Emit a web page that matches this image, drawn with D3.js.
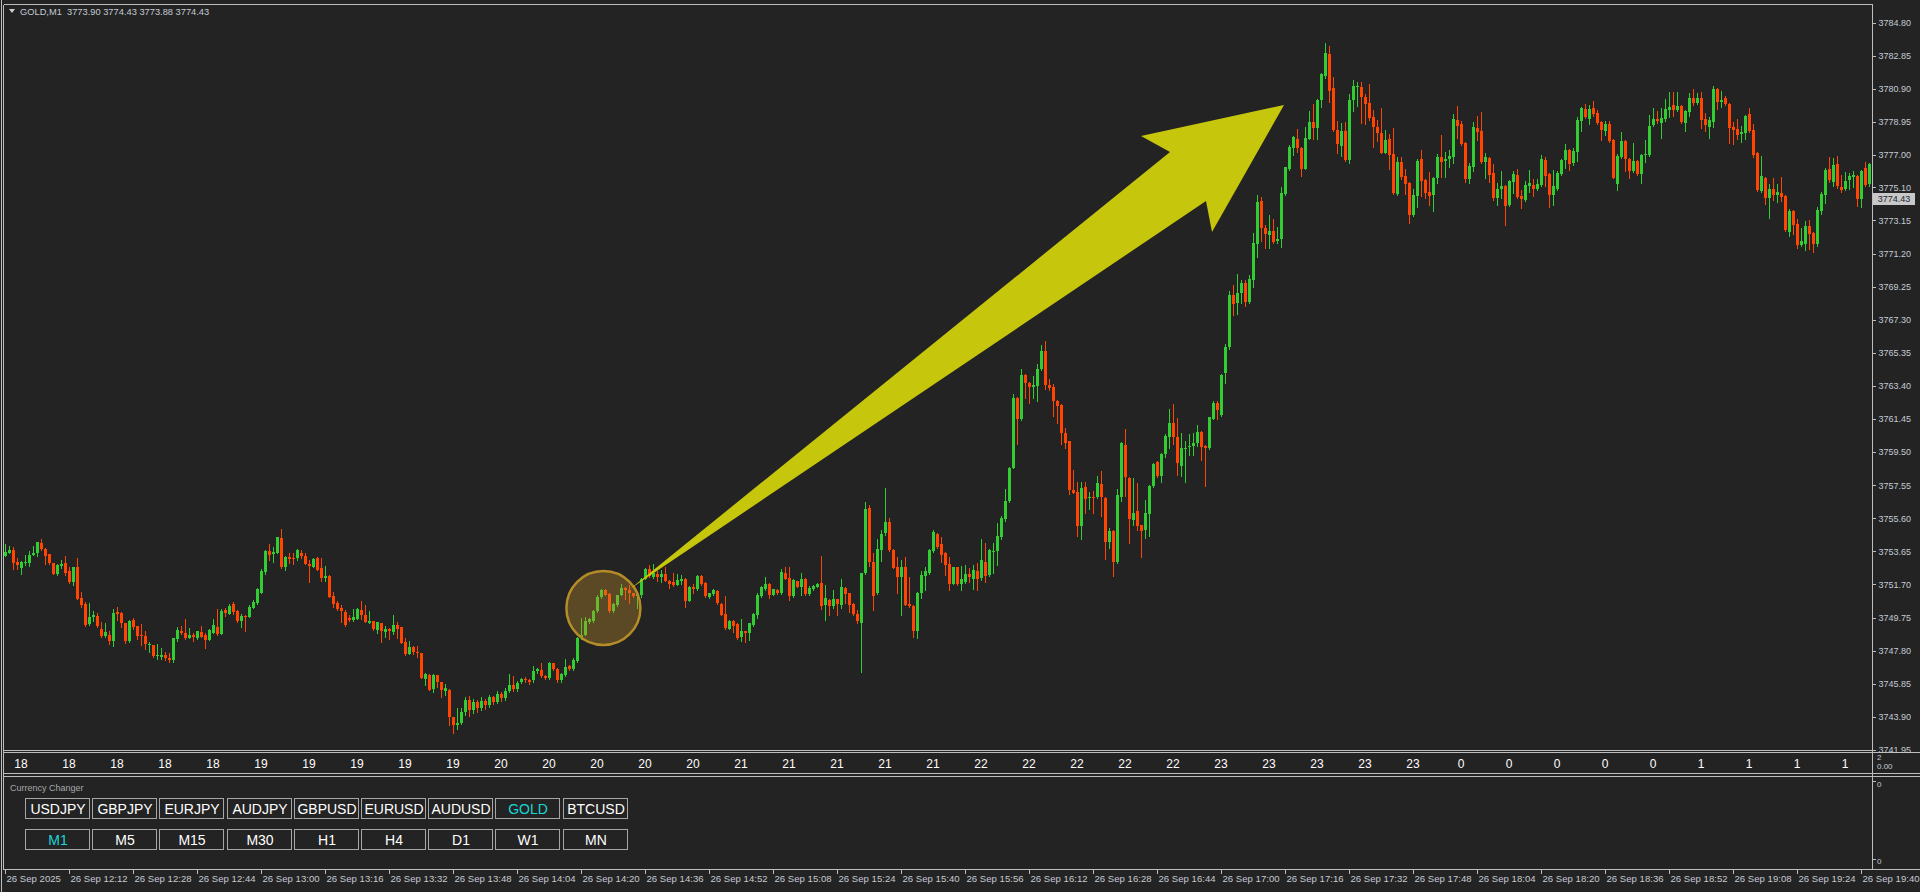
<!DOCTYPE html>
<html><head><meta charset="utf-8">
<script src="https://cdn.jsdelivr.net/npm/d3@7"></script>
<style>
html,body{margin:0;padding:0;background:#232323;overflow:hidden;}
svg{display:block;}
text{font-family:"Liberation Sans",Arial,sans-serif;}
</style></head><body>
<svg id="chart" width="1920" height="892"></svg>
<script>
// ---------- DATA (GOLD M1, one candle per minute from 11:56) ----------
const opens=[
3753.40,3753.58,3753.73,3753.03,3752.69,3752.99,3752.99,3753.46,3753.54,3754.14,
3753.77,3753.50,3752.95,3752.34,3752.81,3752.97,3752.49,3751.87,3752.73,3750.90,
3750.55,3749.37,3749.80,3749.84,3749.08,3748.66,3748.72,3748.39,3750.08,3750.02,
3749.43,3748.39,3749.61,3749.25,3748.72,3748.66,3748.17,3748.13,3747.53,3747.45,
3747.54,3747.39,3747.27,3748.51,3748.96,3748.84,3748.57,3748.72,3748.57,3748.90,
3748.72,3748.43,3748.86,3749.19,3748.80,3750.20,3749.98,3750.55,3750.14,3749.57,
3749.84,3749.80,3750.31,3750.61,3751.22,3752.46,3753.67,3753.50,3753.58,3754.44,
3752.75,3753.30,3753.26,3753.24,3753.58,3753.38,3752.93,3752.75,3753.26,3752.65,
3752.08,3752.20,3751.02,3750.61,3750.33,3750.08,3749.72,3749.61,3749.69,3750.20,
3749.90,3749.43,3749.55,3749.02,3749.43,3748.92,3749.10,3748.92,3749.31,3749.18,
3748.31,3747.62,3748.02,3747.74,3747.66,3746.15,3746.35,3745.54,3746.37,3745.95,
3745.42,3745.48,3743.89,3743.40,3743.52,3744.19,3744.89,3744.30,3744.75,3744.40,
3744.85,3744.60,3745.05,3744.80,3745.25,3745.00,3745.45,3745.80,3745.55,3745.95,
3746.15,3746.05,3746.07,3746.58,3746.66,3746.30,3746.19,3747.05,3746.70,3746.07,
3746.38,3746.89,3746.70,3747.21,3748.58,3748.74,3749.49,3749.56,3750.11,3750.94,
3751.37,3751.14,3750.15,3750.47,3751.10,3751.49,3751.37,3751.18,3751.02,3751.06,
3752.04,3752.59,3752.16,3752.31,3752.16,3752.31,3751.92,3751.84,3751.69,3751.92,
3752.00,3750.74,3751.57,3751.45,3752.20,3751.76,3750.98,3751.14,3751.33,3750.55,
3749.96,3749.09,3749.53,3749.37,3748.58,3748.94,3748.82,3749.33,3749.92,3751.02,
3751.45,3751.73,3751.10,3751.37,3751.21,3752.35,3752.08,3751.02,3751.88,3751.57,
3752.00,3751.14,3751.45,3751.57,3751.76,3750.51,3750.78,3750.43,3750.82,3750.51,
3751.49,3751.18,3750.55,3749.96,3749.45,3752.35,3756.20,3753.02,3751.21,3753.73,
3754.71,3755.38,3753.73,3752.71,3752.16,3752.71,3750.55,3750.43,3748.97,3751.18,
3752.20,3752.35,3753.69,3754.67,3754.07,3753.54,3752.91,3751.75,3752.70,3751.75,
3751.86,3752.32,3752.00,3752.49,3752.07,3753.01,3752.24,3753.61,3753.69,3754.49,
3755.58,3756.63,3758.59,3762.69,3761.43,3764.04,3763.58,3763.33,3763.39,3764.38,
3765.43,3763.47,3763.33,3762.53,3762.27,3760.65,3760.13,3757.29,3757.16,3755.12,
3757.43,3756.82,3756.86,3756.84,3757.60,3756.80,3754.19,3754.84,3753.03,3756.86,
3759.92,3758.00,3755.48,3756.02,3755.18,3754.91,3755.85,3757.48,3758.91,3758.06,
3759.39,3760.38,3761.22,3760.38,3758.70,3759.71,3759.81,3759.85,3760.06,3760.67,
3759.85,3759.71,3761.47,3762.42,3761.68,3764.13,3765.68,3768.76,3768.27,3768.90,
3769.49,3768.33,3769.64,3771.74,3774.27,3772.73,3772.31,3772.52,3771.95,3772.06,
3774.69,3776.20,3777.43,3777.95,3777.43,3776.20,3777.97,3778.94,3778.62,3780.27,
3781.68,3782.96,3780.96,3778.48,3777.53,3778.41,3776.73,3780.25,3781.00,3781.00,
3780.43,3780.08,3779.24,3778.65,3778.33,3777.15,3777.95,3777.07,3774.73,3776.58,
3775.74,3775.37,3773.47,3774.59,3776.77,3775.53,3774.82,3774.64,3775.67,3776.88,
3776.65,3776.77,3776.88,3779.06,3778.83,3777.71,3775.59,3776.31,3778.59,3778.42,
3776.61,3776.84,3775.94,3774.49,3775.00,3775.18,3774.06,3775.41,3775.82,3774.59,
3774.35,3775.19,3775.23,3775.00,3775.23,3776.71,3775.88,3774.64,3775.00,3775.88,
3776.71,3777.30,3776.55,3777.18,3779.03,3779.71,3779.12,3779.77,3779.48,3778.97,
3778.44,3778.83,3777.89,3775.31,3776.90,3777.83,3776.77,3776.08,3776.65,3775.90,
3777.00,3777.00,3778.77,3779.12,3778.87,3779.14,3779.65,3779.95,3779.65,3779.89,
3778.89,3779.54,3780.36,3780.07,3780.36,3779.12,3778.65,3778.95,3780.89,3780.13,
3780.36,3780.01,3778.65,3778.53,3778.24,3778.30,3779.42,3778.48,3777.12,3774.88,
3775.65,3774.47,3775.00,3774.64,3774.76,3774.59,3772.46,3773.70,3772.94,3771.70,
3771.76,3772.82,3772.41,3771.76,3773.70,3774.64,3776.18,3775.41,3776.47,3775.12,
3775.00,3775.53,3775.71,3775.76,3774.41,3776.24,3775.29];
const highs=[
3754.09,3753.97,3753.89,3753.26,3753.10,3753.44,3753.65,3753.97,3754.20,3754.38,
3753.85,3753.50,3752.99,3752.89,3753.14,3753.38,3752.73,3752.73,3753.26,3751.26,
3750.67,3750.61,3750.14,3750.00,3749.47,3749.43,3748.94,3750.26,3750.37,3750.08,
3749.43,3749.61,3749.74,3749.25,3749.37,3748.96,3748.31,3748.13,3748.19,3747.96,
3747.72,3747.64,3748.55,3749.18,3749.25,3749.67,3749.14,3748.82,3748.96,3749.25,
3748.82,3749.10,3749.67,3750.26,3750.28,3750.31,3750.55,3750.67,3750.20,3749.98,
3749.90,3750.47,3750.79,3751.47,3752.61,3753.73,3754.09,3753.93,3754.50,3754.97,
3753.38,3753.56,3753.54,3753.77,3753.73,3753.54,3753.12,3753.28,3753.32,3753.28,
3752.77,3752.24,3751.26,3750.73,3750.47,3750.22,3749.88,3750.26,3750.31,3750.73,
3750.49,3750.14,3749.57,3749.51,3749.43,3749.23,3749.16,3749.90,3749.49,3749.21,
3748.57,3748.37,3748.07,3748.07,3747.66,3746.46,3746.43,3746.41,3746.37,3745.97,
3745.84,3745.52,3743.91,3744.42,3744.42,3745.05,3745.13,3744.95,3744.90,3745.05,
3744.95,3745.20,3745.15,3745.40,3745.35,3745.60,3746.42,3746.30,3746.00,3746.20,
3746.25,3746.15,3746.89,3746.80,3747.09,3746.35,3747.12,3747.10,3746.75,3746.50,
3747.29,3746.95,3747.34,3748.58,3749.70,3749.80,3749.75,3750.18,3751.08,3751.45,
3751.45,3751.18,3750.60,3751.10,3751.73,3751.52,3751.67,3751.22,3751.20,3752.05,
3752.65,3752.84,3752.90,3752.51,3752.55,3752.75,3751.96,3752.35,3752.31,3752.24,
3752.05,3751.60,3751.73,3752.26,3752.25,3751.86,3751.22,3751.42,3751.38,3750.60,
3751.02,3749.58,3749.58,3749.42,3749.64,3748.98,3749.45,3750.00,3751.21,3751.58,
3752.16,3751.78,3751.45,3751.42,3752.59,3752.75,3752.75,3752.00,3751.92,3752.35,
3752.05,3751.61,3751.66,3751.78,3753.38,3751.67,3750.82,3751.37,3750.86,3752.00,
3751.53,3751.22,3750.60,3750.19,3752.40,3756.58,3756.38,3753.53,3754.36,3754.91,
3757.36,3755.59,3753.78,3753.34,3753.14,3753.30,3752.16,3750.48,3751.25,3752.51,
3752.71,3753.78,3754.91,3754.72,3754.49,3753.60,3753.33,3752.75,3752.75,3752.80,
3752.87,3752.64,3752.87,3752.97,3754.38,3754.17,3753.76,3754.17,3755.33,3755.75,
3757.33,3758.64,3762.95,3762.74,3764.38,3764.09,3763.62,3763.96,3764.67,3765.79,
3766.06,3763.79,3763.49,3762.58,3762.32,3760.91,3760.18,3758.44,3757.75,3757.75,
3757.75,3757.12,3757.18,3758.11,3758.38,3756.85,3755.01,3754.89,3757.33,3760.11,
3760.84,3758.05,3758.00,3757.69,3755.23,3756.70,3757.53,3758.85,3758.96,3759.42,
3760.59,3762.02,3762.32,3761.50,3760.63,3760.17,3760.59,3760.63,3761.12,3760.72,
3759.90,3761.59,3762.48,3762.48,3764.09,3765.85,3769.01,3769.32,3769.98,3769.64,
3769.64,3769.95,3772.42,3774.65,3774.52,3772.90,3773.47,3773.26,3772.75,3775.11,
3776.32,3777.57,3778.12,3778.54,3777.48,3778.65,3779.57,3779.99,3780.33,3781.83,
3783.63,3783.42,3781.59,3779.00,3778.90,3778.94,3780.62,3781.42,3781.32,3781.32,
3780.58,3781.21,3779.64,3779.07,3779.80,3778.48,3778.27,3778.58,3776.90,3776.90,
3776.16,3775.42,3774.98,3776.79,3777.30,3775.58,3776.00,3775.73,3777.06,3778.18,
3777.18,3777.30,3779.42,3779.89,3779.01,3777.76,3776.55,3778.95,3779.30,3779.54,
3777.12,3776.89,3776.47,3775.33,3776.06,3775.23,3775.52,3776.06,3776.20,3774.94,
3775.47,3776.12,3775.59,3775.59,3777.00,3776.90,3775.93,3776.12,3776.06,3776.79,
3777.65,3777.35,3777.39,3779.26,3779.82,3780.01,3779.95,3780.18,3779.65,3779.02,
3778.99,3778.99,3777.94,3777.06,3778.36,3777.89,3776.82,3777.71,3776.70,3777.05,
3777.89,3779.36,3779.77,3779.59,3779.77,3780.30,3780.71,3780.71,3780.71,3779.94,
3779.65,3780.64,3780.89,3780.66,3780.71,3779.48,3779.24,3781.07,3780.94,3780.77,
3780.48,3780.07,3778.95,3779.12,3778.71,3779.35,3779.77,3778.83,3777.17,3776.94,
3775.70,3775.29,3775.65,3775.29,3775.71,3774.64,3773.82,3773.75,3773.23,3772.70,
3773.11,3773.17,3772.46,3773.94,3774.82,3776.24,3776.90,3776.83,3776.94,3775.82,
3776.00,3775.94,3776.06,3775.81,3776.11,3776.59,3776.55];
const lows=[
3753.35,3753.54,3752.59,3752.63,3752.34,3752.87,3752.81,3753.46,3753.38,3753.75,
3752.93,3752.93,3752.34,3752.24,3752.69,3752.28,3751.81,3751.69,3750.86,3750.35,
3749.27,3749.33,3749.57,3749.21,3748.63,3748.63,3748.21,3748.09,3749.61,3749.21,
3748.27,3748.29,3749.10,3748.51,3748.15,3747.92,3747.74,3747.45,3747.33,3747.33,
3747.23,3747.15,3747.15,3748.39,3748.76,3748.47,3748.55,3748.39,3748.47,3748.59,
3747.98,3748.43,3748.82,3748.70,3748.80,3749.86,3749.94,3749.98,3749.51,3749.21,
3748.98,3749.76,3750.29,3750.55,3751.22,3752.30,3753.16,3753.04,3753.58,3752.67,
3752.57,3752.95,3752.93,3753.16,3753.24,3752.89,3751.87,3752.71,3752.55,3751.93,
3751.93,3750.98,3750.35,3750.20,3749.51,3749.25,3749.53,3749.57,3749.65,3749.69,
3749.47,3749.41,3749.02,3748.86,3748.31,3748.61,3748.47,3748.80,3748.53,3748.25,
3747.56,3747.60,3747.60,3747.45,3746.19,3745.80,3745.48,3745.38,3745.68,3745.09,
3745.21,3743.44,3742.93,3743.16,3743.48,3744.03,3743.95,3744.10,3744.20,3744.30,
3744.35,3744.50,3744.65,3744.70,3744.85,3744.90,3745.35,3745.40,3745.45,3745.90,
3745.95,3745.85,3745.98,3746.50,3746.25,3746.10,3746.10,3746.65,3745.98,3745.98,
3746.33,3746.68,3746.65,3747.15,3748.50,3748.70,3749.40,3749.50,3750.05,3750.90,
3751.05,3750.10,3750.10,3750.40,3751.05,3750.86,3750.59,3750.95,3750.29,3750.94,
3752.00,3752.15,3752.10,3751.92,3751.86,3751.88,3751.47,3751.61,3751.65,3751.73,
3750.35,3750.70,3751.18,3751.40,3751.68,3750.98,3750.92,3751.10,3750.55,3749.88,
3749.09,3749.05,3748.92,3748.50,3748.35,3748.33,3748.42,3749.28,3749.70,3750.98,
3751.40,3750.88,3751.05,3751.12,3751.16,3752.00,3750.78,3750.98,3751.52,3751.08,
3751.10,3751.10,3751.40,3751.52,3750.23,3749.60,3749.90,3750.29,3749.90,3750.29,
3750.59,3750.09,3749.90,3749.41,3746.56,3752.30,3752.79,3750.19,3751.16,3753.10,
3754.61,3753.68,3752.65,3751.18,3749.90,3750.49,3750.39,3748.58,3748.52,3750.88,
3751.37,3752.30,3753.64,3753.85,3753.01,3752.28,3751.37,3751.70,3751.66,3751.37,
3751.80,3751.86,3751.44,3751.37,3751.96,3751.86,3752.19,3752.38,3752.85,3754.38,
3755.43,3756.58,3758.54,3760.00,3761.38,3762.69,3762.38,3762.69,3762.48,3764.33,
3763.22,3763.16,3761.64,3761.22,3759.96,3759.75,3757.01,3757.06,3754.53,3754.38,
3755.90,3756.17,3755.90,3756.80,3755.75,3753.18,3753.86,3752.21,3752.98,3756.63,
3756.91,3754.17,3755.22,3754.91,3753.33,3754.42,3754.53,3757.43,3758.01,3757.75,
3759.22,3759.75,3760.00,3758.17,3758.06,3757.75,3759.33,3759.33,3759.85,3759.05,
3757.52,3759.66,3761.43,3761.47,3761.63,3763.58,3765.60,3767.58,3767.64,3768.27,
3768.12,3768.29,3769.22,3770.99,3771.95,3771.53,3771.53,3771.81,3771.79,3771.58,
3774.64,3776.10,3777.00,3777.21,3775.78,3776.15,3777.93,3777.93,3777.93,3779.85,
3781.57,3780.10,3778.44,3777.15,3776.96,3776.63,3776.52,3779.57,3779.91,3778.90,
3778.86,3779.07,3777.49,3777.80,3777.10,3777.11,3776.16,3774.73,3774.63,3775.57,
3774.69,3772.98,3773.41,3773.96,3774.59,3774.45,3774.06,3773.72,3775.37,3775.73,
3775.73,3776.28,3776.55,3778.02,3777.59,3775.43,3775.37,3776.06,3777.89,3776.56,
3775.63,3775.43,3774.35,3774.06,3774.49,3772.88,3774.01,3774.78,3774.49,3773.90,
3774.30,3774.84,3774.61,3774.94,3775.18,3775.19,3773.96,3774.06,3774.95,3775.82,
3776.26,3776.12,3776.41,3776.65,3778.44,3779.20,3778.83,3779.30,3778.83,3777.89,
3778.18,3777.79,3775.63,3774.94,3776.85,3776.06,3775.67,3776.02,3775.82,3775.37,
3776.61,3776.95,3778.71,3778.87,3778.00,3779.03,3779.26,3779.30,3779.61,3778.89,
3778.42,3779.30,3779.95,3780.01,3778.59,3778.42,3778.00,3778.65,3779.71,3779.83,
3779.95,3777.71,3777.65,3777.94,3777.77,3777.94,3778.36,3776.88,3774.88,3774.83,
3774.11,3773.29,3774.35,3774.23,3774.29,3772.53,3772.23,3772.35,3771.52,3771.64,
3771.40,3771.46,3771.29,3771.64,3773.53,3774.19,3775.41,3775.18,3775.06,3774.82,
3774.94,3775.00,3775.12,3774.00,3773.94,3775.18,3775.20];
const closes=[
3753.61,3753.73,3752.99,3752.87,3753.03,3753.03,3753.44,3753.58,3754.18,3753.81,
3753.40,3752.99,3752.34,3752.85,3752.93,3752.36,3751.85,3752.73,3750.86,3750.51,
3749.31,3749.78,3749.90,3749.25,3748.66,3748.90,3748.39,3750.00,3749.96,3749.45,
3748.39,3749.55,3749.18,3748.68,3748.68,3748.21,3748.21,3747.51,3747.54,3747.54,
3747.39,3747.27,3748.55,3749.02,3748.84,3748.57,3748.72,3748.59,3748.96,3748.61,
3748.43,3749.04,3749.31,3748.78,3750.14,3750.02,3750.43,3750.06,3749.55,3749.84,
3749.76,3750.35,3750.67,3751.43,3752.49,3753.65,3753.46,3753.61,3754.50,3752.71,
3753.32,3753.22,3753.22,3753.73,3753.40,3752.93,3752.81,3753.20,3752.57,3752.08,
3752.20,3750.98,3750.55,3750.26,3750.16,3749.33,3749.61,3749.78,3750.28,3749.90,
3749.51,3749.55,3749.08,3749.51,3748.98,3749.10,3748.96,3749.29,3749.08,3748.25,
3747.60,3748.02,3747.72,3747.68,3746.21,3746.43,3745.50,3746.37,3745.95,3745.50,
3745.60,3743.91,3743.40,3743.54,3744.19,3744.89,3744.30,3744.75,3744.40,3744.85,
3744.60,3745.05,3744.80,3745.25,3745.00,3745.45,3745.80,3745.55,3745.90,3746.15,
3746.05,3745.98,3746.62,3746.70,3746.30,3746.19,3747.05,3746.70,3746.07,3746.42,
3746.81,3746.74,3747.25,3748.54,3748.74,3749.53,3749.64,3750.11,3750.98,3751.37,
3751.10,3750.15,3750.55,3751.06,3751.49,3751.37,3751.18,3751.02,3751.14,3752.00,
3752.59,3752.20,3752.39,3752.12,3752.31,3751.92,3751.73,3751.69,3751.96,3752.00,
3750.70,3751.57,3751.45,3752.20,3751.73,3751.02,3751.18,3751.37,3750.59,3749.92,
3749.13,3749.53,3749.25,3748.54,3748.94,3748.82,3749.41,3749.96,3751.10,3751.53,
3751.73,3751.10,3751.41,3751.18,3752.43,3752.04,3751.02,3751.96,3751.57,3752.00,
3751.14,3751.49,3751.61,3751.73,3750.43,3750.90,3750.43,3750.82,3750.55,3751.53,
3751.14,3750.51,3749.96,3749.56,3752.35,3756.12,3753.02,3751.02,3753.77,3754.67,
3755.38,3753.73,3752.67,3752.16,3752.71,3750.51,3750.43,3748.97,3751.21,3752.24,
3752.51,3753.73,3754.79,3753.92,3753.43,3752.87,3751.75,3752.70,3751.71,3752.00,
3752.32,3752.11,3752.55,3752.03,3753.12,3752.17,3753.71,3753.69,3754.53,3755.64,
3756.63,3758.59,3762.69,3761.47,3764.04,3763.54,3763.33,3763.45,3764.38,3765.43,
3763.47,3763.26,3762.53,3762.23,3760.65,3760.06,3757.29,3757.08,3755.12,3757.39,
3756.76,3756.86,3756.80,3757.69,3756.86,3754.19,3754.84,3753.01,3756.97,3760.02,
3758.02,3755.54,3755.92,3755.16,3754.84,3755.92,3757.48,3758.80,3758.06,3759.37,
3760.44,3761.22,3760.38,3758.84,3759.71,3759.75,3759.85,3760.06,3760.67,3759.81,
3759.71,3761.54,3762.38,3761.96,3764.04,3765.68,3768.76,3768.25,3768.90,3769.49,
3768.33,3769.70,3771.81,3774.23,3772.73,3772.37,3772.52,3771.89,3772.06,3774.75,
3776.27,3777.47,3778.06,3777.43,3776.20,3778.01,3778.94,3778.58,3780.27,3781.78,
3783.02,3780.79,3778.48,3777.64,3778.41,3776.69,3780.27,3781.05,3781.07,3780.43,
3779.99,3779.21,3778.65,3778.33,3777.15,3777.91,3777.00,3774.77,3776.58,3775.70,
3775.32,3773.47,3774.64,3776.65,3775.49,3774.78,3774.59,3775.67,3776.88,3776.61,
3776.77,3776.94,3779.12,3778.73,3777.65,3775.59,3776.35,3778.65,3778.36,3776.61,
3776.88,3775.82,3774.49,3775.00,3775.18,3774.02,3775.47,3775.88,3774.55,3774.41,
3775.23,3775.35,3775.00,3775.29,3776.77,3775.78,3774.64,3775.18,3775.94,3776.71,
3777.30,3776.49,3777.24,3779.06,3779.77,3779.26,3779.71,3779.42,3778.89,3778.48,
3778.83,3777.85,3775.67,3776.94,3777.83,3776.75,3776.08,3776.65,3775.90,3777.00,
3777.06,3778.71,3779.12,3779.01,3779.18,3779.71,3779.85,3779.65,3779.89,3778.95,
3779.59,3780.36,3780.07,3780.36,3779.06,3778.77,3779.06,3780.89,3780.13,3780.24,
3780.01,3778.59,3778.48,3778.18,3778.36,3779.30,3778.42,3777.00,3774.94,3775.76,
3774.47,3775.00,3774.64,3774.82,3774.53,3772.58,3773.70,3772.88,3771.70,3771.93,
3772.82,3772.35,3771.76,3773.76,3774.70,3776.12,3775.53,3776.41,3775.18,3774.94,
3775.47,3775.76,3775.82,3774.41,3776.06,3775.23,3776.47];

const priceTicks=[3784.80,3782.85,3780.90,3778.95,3777.00,3775.10,3773.15,3771.20,3769.25,3767.30,3765.35,3763.40,3761.45,3759.50,3757.55,3755.60,3753.65,3751.70,3749.75,3747.80,3745.85,3743.90,3741.95];
const timeTickIndex=[0,16,32,48,64,80,96,112,128,144,160,176,192,208,224,240,256,272,288,304,320,336,352,368,384,400,416,432,448,464];
const timeLabels=["26 Sep 2025","26 Sep 12:12","26 Sep 12:28","26 Sep 12:44","26 Sep 13:00","26 Sep 13:16","26 Sep 13:32","26 Sep 13:48","26 Sep 14:04","26 Sep 14:20","26 Sep 14:36","26 Sep 14:52","26 Sep 15:08","26 Sep 15:24","26 Sep 15:40","26 Sep 15:56","26 Sep 16:12","26 Sep 16:28","26 Sep 16:44","26 Sep 17:00","26 Sep 17:16","26 Sep 17:32","26 Sep 17:48","26 Sep 18:04","26 Sep 18:20","26 Sep 18:36","26 Sep 18:52","26 Sep 19:08","26 Sep 19:24","26 Sep 19:40"];
const hourTickIndex=[4,16,28,40,52,64,76,88,100,112,124,136,148,160,172,184,196,208,220,232,244,256,268,280,292,304,316,328,340,352,364,376,388,400,412,424,436,448,460];
const hourLabels=["18","18","18","18","18","19","19","19","19","19","20","20","20","20","20","21","21","21","21","21","22","22","22","22","22","23","23","23","23","23","0","0","0","0","0","1","1","1","1"];
const hourScaleLabels=["2","0.00"];
const panelScaleLabels=["0","0"];
const symbols=["USDJPY","GBPJPY","EURJPY","AUDJPY","GBPUSD","EURUSD","AUDUSD","GOLD","BTCUSD"];
const timeframes=["M1","M5","M15","M30","H1","H4","D1","W1","MN"];
const activeSymbol="GOLD", activeTimeframe="M1";
const headerTitle="GOLD,M1";
const headerOHLC=["3773.90","3774.43","3773.88","3774.43"];
const bidPrice=3774.43;
// annotation anchor points in (candle index, price)
const highlightCircle={index:149.6, price:3750.31};
const arrowPoints=[[156.25,3751.43],[300.25,3774.29],[301.75,3772.47],[319.75,3779.95],[284.0,3778.12],[291.25,3777.18]];

// ---------- LAYOUT ----------
const C={bg:"#232323",frame:"#bdbdbd",bull:"#32cd32",bear:"#ff4500",axisText:"#c3cbd3",arrow:"#c6c60c"};
const svg=d3.select("#chart");
svg.append("rect").attr("width",1920).attr("height",892).attr("fill",C.bg);

const x=d3.scaleLinear().domain([0,466]).range([5,1869]);
const y=d3.scaleLinear().domain([3741.95,3784.80]).range([749.9,22.7]);

const data=closes.map((c,i)=>({i,o:opens[i],h:highs[i],l:lows[i],c}));

svg.append("defs").append("clipPath").attr("id","plotClip")
  .append("rect").attr("x",4).attr("y",5).attr("width",1868).attr("height",745);

const plot=svg.append("g").attr("clip-path","url(#plotClip)").attr("shape-rendering","crispEdges");
const candle=plot.selectAll("g.c").data(data).join("g").attr("class","c")
  .attr("fill",d=>d.c>=d.o?C.bull:C.bear);
candle.append("rect")
  .attr("x",d=>Math.round(x(d.i)))
  .attr("width",1)
  .attr("y",d=>Math.round(y(d.h)))
  .attr("height",d=>Math.max(1,Math.round(y(d.l))-Math.round(y(d.h))+1));
candle.append("rect")
  .attr("x",d=>Math.round(x(d.i))-1)
  .attr("width",3)
  .attr("y",d=>Math.round(y(Math.max(d.o,d.c))))
  .attr("height",d=>Math.max(1,Math.round(y(Math.min(d.o,d.c)))-Math.round(y(Math.max(d.o,d.c)))));

// annotations
const ann=svg.append("g").attr("clip-path","url(#plotClip)");
ann.append("circle").attr("cx",x(highlightCircle.index)).attr("cy",y(highlightCircle.price)).attr("r",37)
  .attr("fill","rgba(205,150,40,0.33)").attr("stroke","#b48c28").attr("stroke-width",2.5);
ann.append("path").attr("d",d3.line().x(p=>x(p[0])).y(p=>y(p[1])).curve(d3.curveLinearClosed)(arrowPoints))
  .attr("fill",C.arrow);

// frame lines
const fr=svg.append("g").attr("stroke",C.frame).attr("stroke-width",1).attr("shape-rendering","crispEdges");
[[1.5,0,1.5,892],[3.5,4.5,3.5,869.5],[1872.5,4.5,1872.5,869.5],
 [3.5,4.5,1872.5,4.5],[3.5,750.5,1872.5,750.5],[3.5,752.5,1920,752.5],
 [3.5,773.5,1920,773.5],[3.5,776.5,1920,776.5],[3.5,869.5,1920,869.5]].forEach(l=>{
  fr.append("line").attr("x1",l[0]).attr("y1",l[1]).attr("x2",l[2]).attr("y2",l[3]);
});
svg.append("rect").attr("x",1873).attr("y",751).attr("width",47).attr("height",1).attr("fill",C.bg);

// price axis
const yAxis=d3.axisRight(y).tickValues(priceTicks).tickFormat(d3.format(".2f")).tickSize(3).tickPadding(3);
const ya=svg.append("g").attr("transform","translate(1872.5,0)").call(yAxis);
ya.select(".domain").remove();
ya.selectAll("line").attr("stroke",C.frame).attr("shape-rendering","crispEdges");
ya.selectAll("text").attr("fill",C.axisText).style("font-size","9px").style("font-family","Liberation Sans, Arial, sans-serif");

// bid label
const bg=svg.append("g");
bg.append("rect").attr("x",1873).attr("y",Math.round(y(bidPrice))-6).attr("width",42).attr("height",12).attr("fill","#c8c8c8");
bg.append("text").attr("x",1894).attr("y",y(bidPrice)).attr("dy","0.35em").attr("text-anchor","middle")
  .attr("fill","#1e2630").style("font-size","9px").text(d3.format(".2f")(bidPrice));

// time axis
const xAxis=d3.axisBottom(x).tickValues(timeTickIndex).tickFormat((d,i)=>timeLabels[i]).tickSize(4).tickPadding(2);
const xa=svg.append("g").attr("transform","translate(0,869.5)").call(xAxis);
xa.select(".domain").remove();
xa.selectAll("line").attr("stroke",C.frame).attr("shape-rendering","crispEdges");
xa.selectAll("text").attr("fill",C.axisText).attr("text-anchor","start").attr("x",1)
  .style("font-size","9.6px").style("font-family","Liberation Sans, Arial, sans-serif");

// header
svg.append("path").attr("d","M9,9 L15,9 L12,13 Z").attr("fill","#d0d0d0");
svg.append("text").attr("x",20).attr("y",15).attr("fill",C.axisText).style("font-size","9.3px")
  .attr("xml:space","preserve").text(headerTitle+"  "+headerOHLC.join(" "));

// hour row
const hr=svg.append("g");
hr.selectAll("text").data(hourTickIndex).join("text")
  .attr("x",d=>x(d)).attr("y",763.5).attr("dy","0.35em").attr("text-anchor","middle")
  .attr("fill","#ffffff").style("font-size","12px").style("font-family","Liberation Sans Narrow, Liberation Sans, Arial, sans-serif")
  .text((d,i)=>hourLabels[i]);
svg.append("defs").append("clipPath").attr("id","hourClip").append("rect").attr("x",1873).attr("y",753).attr("width",47).attr("height",20);
const hs=svg.append("g").attr("clip-path","url(#hourClip)");
hs.append("text").attr("x",1877).attr("y",760).attr("fill",C.axisText).style("font-size","8px").text(hourScaleLabels[0]);
hs.append("text").attr("x",1877).attr("y",769).attr("fill",C.axisText).style("font-size","8px").text(hourScaleLabels[1]);

// panel
svg.append("text").attr("x",10).attr("y",791).attr("fill","#a8a8a8").style("font-size","9px").text("Currency Changer");
function buttons(list,active,top){
  const g=svg.append("g");
  const b=g.selectAll("g").data(list).join("g").attr("transform",(d,i)=>`translate(${Math.round(25+i*67.2)},${top})`);
  b.append("rect").attr("x",0.5).attr("y",0.5).attr("width",64).attr("height",20)
    .attr("fill",C.bg).attr("stroke","#a6a6a6").attr("shape-rendering","crispEdges");
  b.append("text").attr("x",33).attr("y",11).attr("dy","0.36em").attr("text-anchor","middle")
    .attr("fill",d=>d===active?"#1ad6d6":"#ffffff")
    .style("font-size","14px").style("font-family","Liberation Sans Narrow, Liberation Sans, Arial, sans-serif")
    .text(d=>d);
}
buttons(symbols,activeSymbol,798);
buttons(timeframes,activeTimeframe,829);
svg.append("text").attr("x",1877).attr("y",787).attr("fill",C.axisText).style("font-size","8px").text(panelScaleLabels[0]);
svg.append("text").attr("x",1877).attr("y",864).attr("fill",C.axisText).style("font-size","8px").text(panelScaleLabels[1]);
fr.append("line").attr("x1",1872.5).attr("y1",781.5).attr("x2",1875.5).attr("y2",781.5);
fr.append("line").attr("x1",1872.5).attr("y1",859.5).attr("x2",1875.5).attr("y2",859.5);
</script></body></html>
